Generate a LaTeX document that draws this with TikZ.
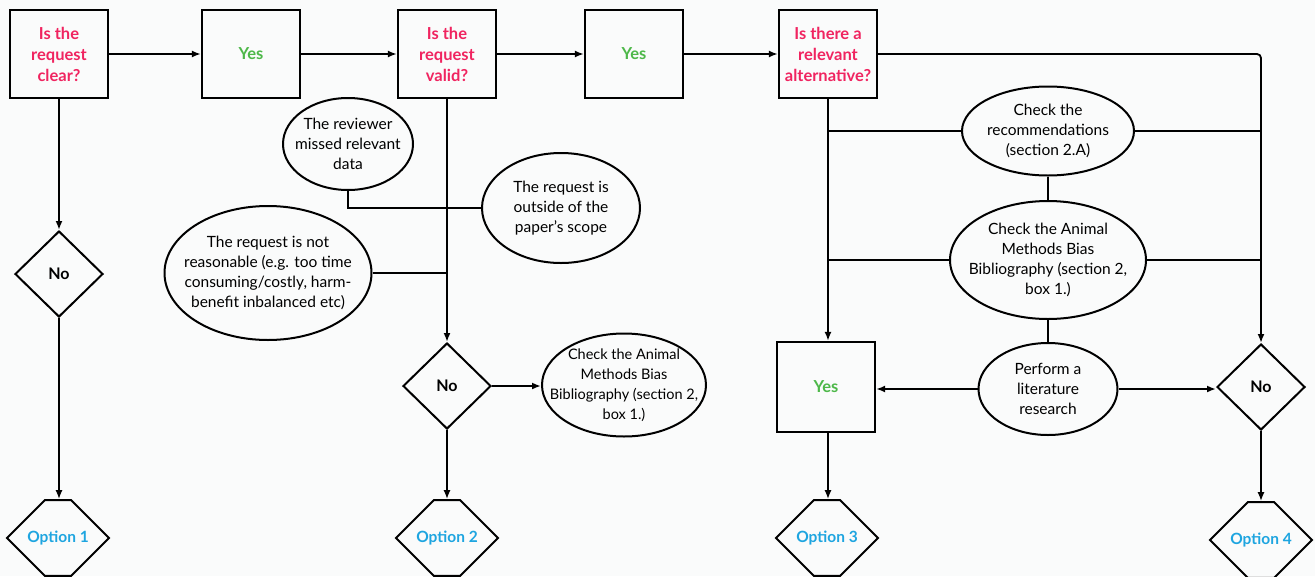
\documentclass[tikz,border=0pt]{standalone}
\usepackage{fontspec}
\setmainfont{Lato}
\usetikzlibrary{arrows.meta,shapes.geometric,shapes.misc}
\definecolor{qred}{RGB}{240,36,96}
\definecolor{ygreen}{RGB}{77,184,73}
\definecolor{oblue}{RGB}{30,165,224}
\definecolor{bg}{RGB}{250,251,251}
\begin{document}
\begin{tikzpicture}[x=1pt,y=-1pt,
  qbox/.style={draw,line width=2.2pt,minimum width=98pt,minimum height=88pt,inner sep=0pt,align=center,
    text=qred,font=\fontsize{16.5}{21}\selectfont\bfseries},
  ybox/.style={qbox,text=ygreen},
  nodiam/.style={draw,diamond,line width=2pt,minimum width=88pt,minimum height=86pt,inner sep=0pt,
    font=\fontsize{16}{21}\selectfont\bfseries},
  opt/.style={draw,chamfered rectangle,chamfered rectangle xsep=25pt,chamfered rectangle ysep=36.9pt,
    minimum width=102pt,minimum height=74pt,inner sep=0pt,line width=2pt,text=oblue,
    font=\fontsize{15.5}{21}\selectfont\bfseries},
  ell/.style={draw,ellipse,line width=2pt,inner sep=0pt},
  etext/.style={align=center,inner sep=0pt,font=\fontsize{15.5}{20}\selectfont},
  conn/.style={line width=1.8pt},
  arr/.style={conn,-{Latex[length=9pt,width=7pt]}}
]
\fill[bg] (0,0) rectangle (1315,576);
\useasboundingbox (0,0) rectangle (1315,576);

% top row
\node[qbox] (q1) at (59,54) {Is the\\request\\clear?};
\node[ybox] (y1) at (251,54) {Yes};
\node[qbox] (q2) at (447,54) {Is the\\request\\valid?};
\node[ybox] (y2) at (634,54) {Yes};
\node[qbox] (q3) at (828,54) {Is there a\\relevant\\alternative?};

% column 1
\node[nodiam] (n1) at (59,274) {No};
\node[opt] (o1) at (58,538) {Option 1};

% column 2
\node[ell,minimum width=130pt,minimum height=92pt] (e1) at (348,144) {};
\node[etext] (e1t) at (e1) {The reviewer\\missed relevant\\data};
\node[ell,minimum width=158pt,minimum height=110pt] (e2) at (561,208) {};
\node[etext] (e2t) at (e2) {The request is\\outside of the\\paper's scope};
\node[ell,minimum width=207pt,minimum height=134pt] (e3) at (268,273) {};
\node[etext] (e3t) at (e3) {The request is not\\reasonable (e.g. too time\\consuming/costly, harm-\\benefit inbalanced etc)};
\node[nodiam] (n2) at (447,386) {No};
\node[ell,minimum width=164pt,minimum height=103pt] (e4) at (624,385) {};
\node[etext,font=\fontsize{14.5}{20}\selectfont] (e4t) at (e4) {Check the Animal\\Methods Bias\\Bibliography (section 2,\\box 1.)};
\node[opt] (o2) at (447,538) {Option 2};

% column 3 / 4
\node[ell,minimum width=172pt,minimum height=89pt] (c1) at (1048,131) {};
\node[etext] (c1t) at (c1) {Check the\\recommendations\\(section 2.A)};
\node[ell,minimum width=196pt,minimum height=118pt] (c2) at (1048,260) {};
\node[etext] (c2t) at (c2) {Check the Animal\\Methods Bias\\Bibliography (section 2,\\box 1.)};
\node[ell,minimum width=139pt,minimum height=92pt] (c3) at (1048,389) {};
\node[etext] (c3t) at (c3) {Perform a\\literature\\research};
\node[ybox,minimum height=90pt] (y3) at (826,387) {Yes};
\node[nodiam] (n4) at (1261,387) {No};
\node[opt] (o3) at (827,538) {Option 3};
\node[opt] (o4) at (1261,540) {Option 4};

% connectors top row
\draw[arr] (q1) -- (y1);
\draw[arr] (y1) -- (q2);
\draw[arr] (q2) -- (y2);
\draw[arr] (y2) -- (q3);
\draw[arr,rounded corners=4pt] (q3.east) -| (n4.north);

% column 1
\draw[arr] (q1) -- (n1);
\draw[arr] (n1) -- (o1.north -| n1.south);

% column 2
\draw[arr] (q2) -- (n2);
\draw[conn] (e1.south) |- (e2.west -| q2.south);
\draw[conn] (e2.west) -- (e2.west -| q2.south);
\draw[conn] (e3.east) -- (e3.east -| q2.south);
\draw[arr] (n2.east) -- (n2.east -| e4.west);
\draw[arr] (n2) -- (o2);

% column 3/4
\draw[arr] (q3.south) -- (q3.south |- y3.north);
\draw[conn] (c1.west) -- (c1.west -| q3.south);
\draw[conn] (c1.east) -- (c1.east -| n4.north);
\draw[conn] (c1) -- (c2);
\draw[conn] (c2.west) -- (c2.west -| q3.south);
\draw[conn] (c2.east) -- (c2.east -| n4.north);
\draw[conn] (c2) -- (c3);
\draw[arr] (c3.west) -- (c3.west -| y3.east);
\draw[arr] (c3.east) -- (c3.east -| n4.west);
\draw[arr] (y3.south -| q3.south) -- (o3.north -| q3.south);
\draw[arr] (n4) -- (o4);
\end{tikzpicture}
\end{document}
